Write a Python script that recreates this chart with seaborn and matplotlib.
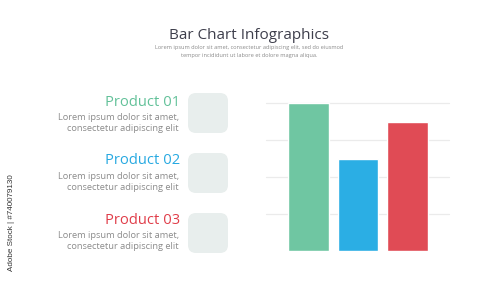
import matplotlib
matplotlib.use("Agg")
import matplotlib.pyplot as plt
import seaborn as sns
import pandas as pd
from matplotlib.patches import FancyBboxPatch

# ---- data ----
products = ["Product 01", "Product 02", "Product 03"]
values = [4.0, 2.5, 3.5]
colors = ["#6fc6a2", "#2baee4", "#e04b55"]
text_colors = ["#62c199", "#27a9e1", "#e03d49"]
body_lines = ["Lorem ipsum dolor sit amet,", "consectetur adipiscing elit"]
title = "Bar Chart Infographics"
subtitle = ["Lorem ipsum dolor sit amet, consectetur adipiscing elit, sed do eiusmod",
            "tempor incididunt ut labore et dolore magna aliqua."]
grid_values = [1, 2, 3, 4]

sns.set_theme(style="white")
plt.rcParams["font.family"] = ["Open Sans", "DejaVu Sans"]

W, H = 500, 286
fig = plt.figure(figsize=(W / 100, H / 100), dpi=100)
fig.patch.set_facecolor("white")

# pixel overlay axes for decorations and text
ov = fig.add_axes([0, 0, 1, 1], zorder=0)
ov.set_xlim(0, W)
ov.set_ylim(H, 0)
ov.axis("off")

ov.text(249, 39, title, ha="center", va="baseline", fontsize=11,
        color="#3e3f4c", fontweight="medium")
ov.text(249, 49.5, subtitle[0], ha="center", va="baseline", fontsize=4.1, color="#8a8a8a")
ov.text(249, 56.5, subtitle[1], ha="center", va="baseline", fontsize=4.1, color="#8a8a8a")

square_tops = [93, 153, 213]
head_base = [105.5, 164.5, 223.5]
for i, name in enumerate(products):
    ov.add_patch(FancyBboxPatch((188 + 8, square_tops[i] + 8), 40 - 16, 40 - 16,
                                boxstyle="round,pad=8", facecolor="#e8eeed",
                                edgecolor="none"))
    ov.text(180, head_base[i], name, ha="right", va="baseline", fontsize=10.6,
            color=text_colors[i])
    for j, line in enumerate(body_lines):
        ov.text(179, head_base[i] + 14.5 + j * 11, line, ha="right", va="baseline",
                fontsize=6.7, color="#8c8c8c")

ov.text(12, 223, "Adobe Stock | #740079130", rotation=90, ha="center", va="center",
        fontsize=5.8, color="#333333", family=["Liberation Sans", "DejaVu Sans"])

# bar chart axes
left_px, right_px = 266, 449
bottom_px, top_px = 251, 103
ax = fig.add_axes([left_px / W, 1 - bottom_px / H, (right_px - left_px) / W,
                   (bottom_px - top_px) / H], zorder=1)
ax.patch.set_alpha(0)
df = pd.DataFrame({"product": products, "value": values})
sns.barplot(data=df, x="product", y="value", hue="product", palette=colors,
            width=0.81, legend=False, ax=ax, saturation=1, zorder=3)
for g in grid_values:
    ax.axhline(g, color="#ebebeb", linewidth=0.9, zorder=1, clip_on=False)
ax.set_xlim(-0.859, 2.838)
ax.set_ylim(0, 4)
ax.axis("off")

fig.savefig("out.png", dpi=100, facecolor="white")
